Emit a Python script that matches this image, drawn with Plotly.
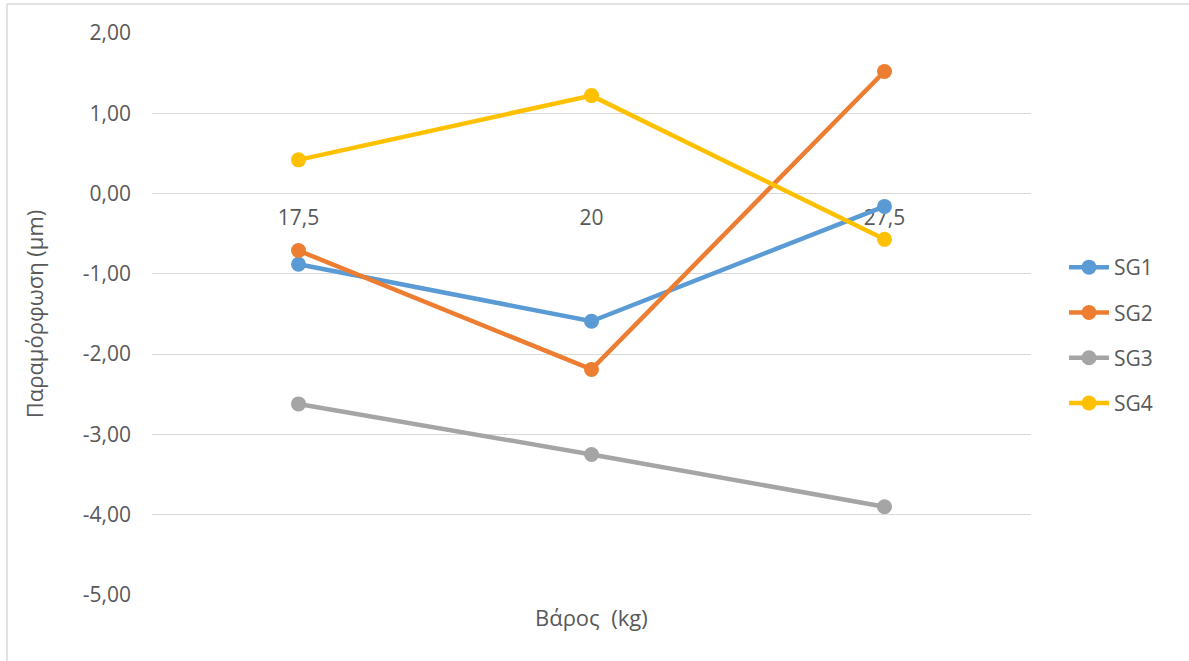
import plotly.graph_objects as go

# Load categories (kg) and strain readings (μm) per strain gauge
categories = ["17,5", "20", "27,5"]
sg1 = [-0.88, -1.59, -0.16]
sg2 = [-0.71, -2.19, 1.52]
sg3 = [-2.62, -3.25, -3.90]
sg4 = [0.42, 1.22, -0.57]

y_ticks = [2, 1, 0, -1, -2, -3, -4, -5]
y_tick_text = ["2,00", "1,00", "0,00", "-1,00", "-2,00", "-3,00", "-4,00", "-5,00"]

series = [
    ("SG1", sg1, "#5B9BD5"),
    ("SG2", sg2, "#ED7D31"),
    ("SG3", sg3, "#A5A5A5"),
    ("SG4", sg4, "#FFC000"),
]

font_family = "Open Sans, Lato, Liberation Sans, sans-serif"
text_color = "#595959"

fig = go.Figure()
for name, values, color in series:
    fig.add_trace(go.Scatter(
        x=categories, y=values, name=name, legendgroup=name,
        mode="lines+markers",
        line=dict(color=color, width=4.5),
        marker=dict(color=color, size=15),
        cliponaxis=False,
    ))

W, H = 1189, 661
ml, mr, mt, mb = 152, 158, 33, 66
pw, ph = W - ml - mr, H - mt - mb

def px_x(p):
    return (p - ml) / pw

def px_y(p):
    return (H - mb - p) / ph

fig.update_layout(
    width=W, height=H,
    margin=dict(l=ml, r=mr, t=mt, b=mb),
    paper_bgcolor="white", plot_bgcolor="white",
    font=dict(family=font_family, color=text_color, size=21),
    showlegend=True,
    legend=dict(
        x=px_x(1064), y=px_y(247), xanchor="left", yanchor="top",
        traceorder="grouped", tracegroupgap=15,
        font=dict(size=21, color=text_color),
        itemwidth=40, bgcolor="rgba(0,0,0,0)",
    ),
    xaxis=dict(
        type="category", range=[-0.5, 2.5],
        anchor="free", position=5 / 7,
        showgrid=False, showline=False, zeroline=False,
        ticks="", ticklabelstandoff=9,
        tickfont=dict(size=21, color=text_color),
        layer="below traces",
    ),
    yaxis=dict(
        range=[-5, 2], tickmode="array",
        tickvals=y_ticks, ticktext=y_tick_text,
        showgrid=True, gridcolor="#D9D9D9", gridwidth=1.3,
        zeroline=False, showline=False, ticks="",
        ticklabelstandoff=20,
        tickfont=dict(size=21, color=text_color),
        title=dict(text="Παραμόρφωση (μm)", font=dict(size=22, color=text_color),
                   standoff=33),
    ),
    annotations=[dict(
        text="Βάρος  (kg)", xref="paper", yref="paper",
        x=0.5, y=px_y(617), xanchor="center", yanchor="middle",
        showarrow=False, font=dict(size=22, color=text_color),
    )],
    shapes=[
        dict(type="line", xref="paper", yref="paper",
             x0=px_x(7), x1=px_x(1200), y0=px_y(4), y1=px_y(4),
             line=dict(color="#D9D9D9", width=1.5)),
        dict(type="line", xref="paper", yref="paper",
             x0=px_x(7), x1=px_x(7), y0=px_y(4), y1=px_y(670),
             line=dict(color="#D9D9D9", width=1.5)),
    ],
)

fig.write_html("out.html")
